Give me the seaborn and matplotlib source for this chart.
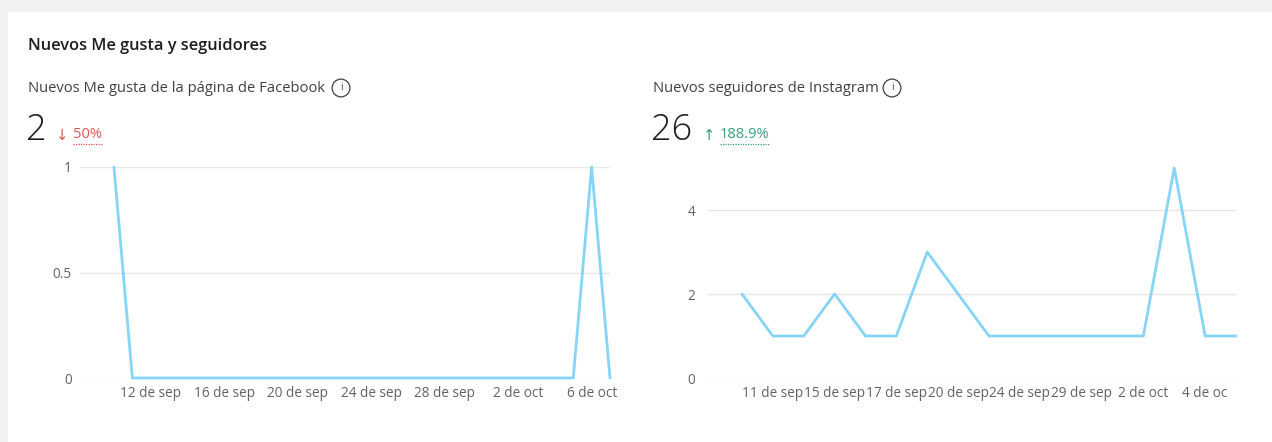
import numpy as np
import pandas as pd
import matplotlib
matplotlib.use("Agg")
import matplotlib.pyplot as plt
import seaborn as sns
from matplotlib.patches import Rectangle
from matplotlib.lines import Line2D

# ---------------- data ----------------
fb_start = "2023-09-10"
fb_end = "2023-10-07"
fb_values = [1, 0, 0, 0, 0, 0, 0, 0, 0, 0, 0, 0, 0, 0,
             0, 0, 0, 0, 0, 0, 0, 0, 0, 0, 0, 0, 1, 0]
fb_tick_dates = ["2023-09-12", "2023-09-16", "2023-09-20", "2023-09-24",
                 "2023-09-28", "2023-10-02", "2023-10-06"]
meses = {9: "sep", 10: "oct"}

ig_values = [2, 1, 1, 2, 1, 1, 3, 2, 1, 1, 1, 1, 1, 1, 5, 1, 1]
ig_tick_labels = ["11 de sep", "15 de sep", "17 de sep", "20 de sep",
                  "24 de sep", "29 de sep", "2 de oct", "4 de oc"]

card_title = "Nuevos Me gusta y seguidores"
fb_title = "Nuevos Me gusta de la página de Facebook"
ig_title = "Nuevos seguidores de Instagram"
fb_total, fb_change = "2", "50%"
ig_total, ig_change = "26", "188.9%"

# ---------------- style ----------------
sns.set_style("white")
plt.rcParams["font.family"] = ["Open Sans", "DejaVu Sans"]

W, H = 1272, 442
fig = plt.figure(figsize=(W / 100, H / 100), dpi=100)
fig.patch.set_facecolor("#f2f2f2")
fig.add_artist(Rectangle((8 / W, 0), 1, 1 - 12 / H, transform=fig.transFigure,
                         facecolor="white", edgecolor="none", zorder=0))

LINE = "#86d4f6"
GRID = "#e6e6e6"
TICK = "#5f6368"
DARK = "#1c1e21"
SUB = "#3e4042"


def fx(x):
    return x / W


def fy(y):
    return 1 - y / H


def axes_px(x0, x1, ytop, ybot):
    return fig.add_axes([fx(x0), fy(ybot), (x1 - x0) / W, (ybot - ytop) / H])


def style_ax(ax, ypad):
    for s in ax.spines.values():
        s.set_visible(False)
    ax.tick_params(axis="both", length=0, labelsize=9.8, labelcolor=TICK)
    ax.tick_params(axis="y", pad=ypad)
    ax.tick_params(axis="x", pad=6)
    ax.yaxis.grid(True, color=GRID, linewidth=1)
    ax.xaxis.grid(False)
    ax.set_facecolor("none")
    ax.set_xlabel("")
    ax.set_ylabel("")


# ---------------- Facebook ----------------
fb_dates = pd.date_range(fb_start, fb_end, freq="D")
df_fb = pd.DataFrame({"fecha": fb_dates, "valor": fb_values})
ax1 = axes_px(80, 610, 167, 378)
sns.lineplot(data=df_fb, x="fecha", y="valor", ax=ax1, color=LINE,
             linewidth=2.0, clip_on=False)
ax1.set_ylim(0, 1)
ax1.set_yticks([0, 0.5, 1])
ax1.set_yticklabels(["0", "0.5", "1"])
ax1.set_xlim(fb_dates[0] - pd.Timedelta(days=1.85), fb_dates[-1])
tick_d = pd.to_datetime(fb_tick_dates)
ax1.set_xticks(tick_d)
ax1.set_xticklabels([f"{d.day} de {meses[d.month]}" for d in tick_d])
style_ax(ax1, 6)

# ---------------- Instagram ----------------
df_ig = pd.DataFrame({"i": np.arange(len(ig_values)), "valor": ig_values})
ax2 = axes_px(708, 1236, 168, 378)
sns.lineplot(data=df_ig, x="i", y="valor", ax=ax2, color=LINE,
             linewidth=2.0, clip_on=False)
ax2.set_ylim(0, 5)
ax2.set_yticks([0, 2, 4])
ax2.set_yticklabels(["0", "2", "4"])
ax2.set_xlim(-1.1, len(ig_values) - 1)
ax2.set_xticks(np.arange(1, len(ig_values), 2))
ax2.set_xticklabels(ig_tick_labels)
style_ax(ax2, 9)

# ---------------- header texts ----------------
fig.text(fx(28), fy(46), card_title, fontsize=11.8, fontweight="semibold",
         color=DARK, va="center", ha="left")


def header(x, title, icon_x, total, arrow, change, color, change_x, change_w):
    fig.text(fx(x), fy(88), title, fontsize=10.6, color=SUB, va="center", ha="left")
    fig.text(fx(icon_x), fy(88), "i", fontsize=7, color=SUB, va="center",
             ha="center",
             bbox=dict(boxstyle="circle,pad=0.35", fc="white", ec=SUB, lw=0.9))
    fig.text(fx(x - 2), fy(131), total, fontsize=26, fontweight="light",
             color=DARK, va="center", ha="left")
    fig.text(fx(change_x - 17), fy(135), arrow, fontsize=10.5, color=color,
             va="center", ha="left", family=["DejaVu Sans"])
    fig.text(fx(change_x), fy(135), change, fontsize=10.5, color=color,
             va="center", ha="left")
    fig.add_artist(Line2D([fx(change_x), fx(change_x + change_w)], [fy(144), fy(144)],
                          transform=fig.transFigure, color=color, lw=0.9,
                          linestyle=(0, (1, 1))))


header(28, fb_title, 341, fb_total, "↓", fb_change, "#e0574f", 73, 30)
header(653, ig_title, 892, ig_total, "↑", ig_change, "#34a07a", 720, 50)

fig.savefig("out.png", dpi=100, facecolor=fig.get_facecolor())
